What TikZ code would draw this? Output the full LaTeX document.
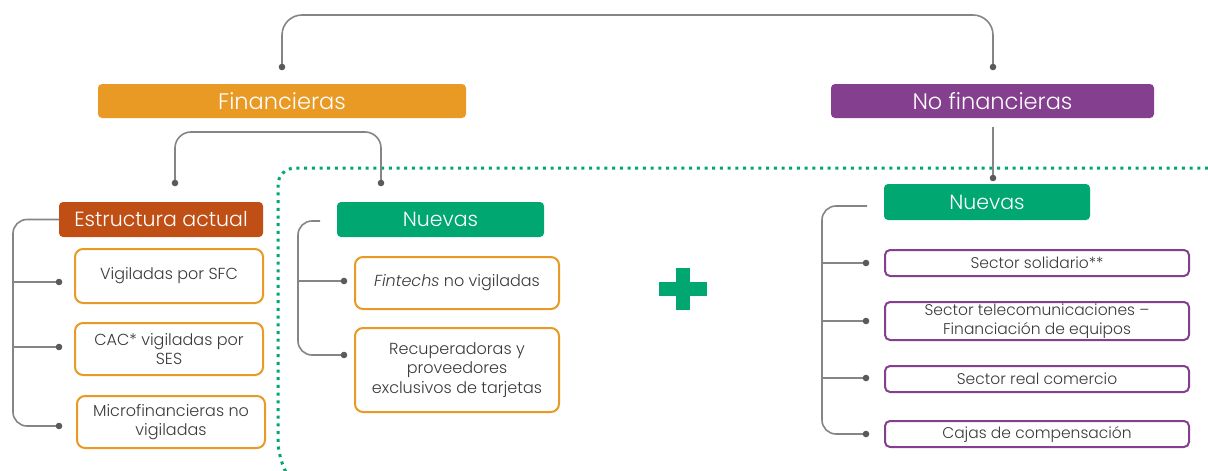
\documentclass[tikz,border=0pt]{standalone}
\usepackage{fontspec}
\setmainfont{Poppins}[UprightFont=* Light, ItalicFont=* Light Italic]
\definecolor{cOrange}{HTML}{E99A25}
\definecolor{cRust}{HTML}{C04F15}
\definecolor{cGreen}{HTML}{00A770}
\definecolor{cPurple}{HTML}{84408E}
\definecolor{cLine}{HTML}{858585}
\definecolor{cDot}{HTML}{5A5A5A}
\definecolor{cText}{HTML}{3A3A3A}
\begin{document}
\begin{tikzpicture}[x=1pt,y=-1pt,
  head/.style={rounded corners=4pt, text=white, inner sep=0pt, font=\fontsize{22.5}{26}\selectfont},
  sub/.style={head, font=\fontsize{20.5}{24}\selectfont},
  obox/.style={draw=cOrange, line width=2pt, rounded corners=8pt, fill=white, text=cText, inner sep=0pt, align=center, font=\fontsize{16}{19.5}\selectfont, minimum width=188pt},
  pbox/.style={draw=cPurple, line width=2pt, rounded corners=5pt, fill=white, text=cText, inner sep=0pt, align=center, font=\fontsize{15.5}{19}\selectfont, minimum width=304pt},
  conn/.style={draw=cLine, line width=1.6pt},
  dotline/.style={draw=cGreen, line width=3pt, dash pattern=on 3pt off 4.7pt}
]
\useasboundingbox (0,0) rectangle (1208,471);

% dotted separator
\draw[dotline, rounded corners=17pt] (1208,168) -- (278,168) -- (278,458) -- (288,476);

% header nodes
\node[head, fill=cOrange, minimum width=368pt, minimum height=34pt] (fin) at (282,101) {Financieras};
\node[head, fill=cPurple, minimum width=323pt, minimum height=34pt] (nof) at (992.5,101) {No financieras};
\node[sub, fill=cRust, minimum width=204pt, minimum height=35pt] (ea) at (161,219.5) {Estructura actual};
\node[sub, fill=cGreen, minimum width=207pt, minimum height=35pt] (nv1) at (440.5,219.5) {Nuevas};
\node[sub, fill=cGreen, minimum width=206pt, minimum height=36pt] (nv2) at (987,202) {Nuevas};

% left boxes
\node[obox, minimum height=54pt] (b1) at (169,276) {Vigiladas por SFC};
\node[obox, minimum height=52pt] (b2) at (169,349) {CAC* vigiladas por\\SES};
\node[obox, minimum height=52pt] (b3) at (171,422) {Microfinancieras no\\vigiladas};
\node[obox, minimum width=204pt, minimum height=52pt] (f1) at (457,283) {\textit{Fintechs} no vigiladas};
\node[obox, minimum width=204pt, minimum height=84pt] (f2) at (457,370) {Recuperadoras y\\proveedores\\exclusivos de tarjetas};

% right boxes
\node[pbox, minimum height=26pt] (r1) at (1037,263) {Sector solidario**};
\node[pbox, minimum height=38pt] (r2) at (1037,321) {Sector telecomunicaciones --\\Financiación de equipos};
\node[pbox, minimum height=26pt] (r3) at (1037,379) {Sector real comercio};
\node[pbox, minimum height=26pt] (r4) at (1037,434) {Cajas de compensación};

% plus sign
\fill[cGreen] (676,268) rectangle (690,310);
\fill[cGreen] (659,282) rectangle (707,296);

% connector end points
\coordinate (dFin) at (282,67);
\coordinate (dNof) at (993,67);
\coordinate (dEa) at (175,183);
\coordinate (dNv1) at (381,183);
\coordinate (dNv2) at (993,178);
\coordinate (dB1) at (59,282);
\coordinate (dB2) at (59,347);
\coordinate (dB3) at (59,426);
\coordinate (dF1) at (344,281);
\coordinate (dF2) at (344,355);
\coordinate (dR1) at (866,263);
\coordinate (dR2) at (866,321);
\coordinate (dR3) at (866,378);
\coordinate (dR4) at (866,434);

% top connector
\draw[conn, rounded corners=20pt] (dFin) -- (282,15) -- (993,15) -- (dNof);
% financieras split
\draw[conn, rounded corners=16pt] (dEa) -- (175,132) -- (381,132) -- (dNv1);
% no financieras down
\draw[conn] (993,127) -- (dNv2);

% left bracket
\draw[conn, rounded corners=14pt] (ea.west) -- (13,219.5) -- (13,426) -- (dB3);
\draw[conn] (13,282) -- (dB1);
\draw[conn] (13,347) -- (dB2);
% nuevas bracket
\draw[conn, rounded corners=14pt] (320,221) -- (298,221) -- (298,355) -- (dF2);
\draw[conn] (298,281) -- (dF1);
% right bracket
\draw[conn, rounded corners=14pt] (867,206) -- (822,206) -- (822,434) -- (dR4);
\draw[conn] (822,263) -- (dR1);
\draw[conn] (822,321) -- (dR2);
\draw[conn] (822,378) -- (dR3);

% dots
\foreach \d in {dFin,dNof,dEa,dNv1,dNv2,dB1,dB2,dB3,dF1,dF2,dR1,dR2,dR3,dR4}
  \fill[cDot] (\d) circle (3.3pt);
\end{tikzpicture}
\end{document}
